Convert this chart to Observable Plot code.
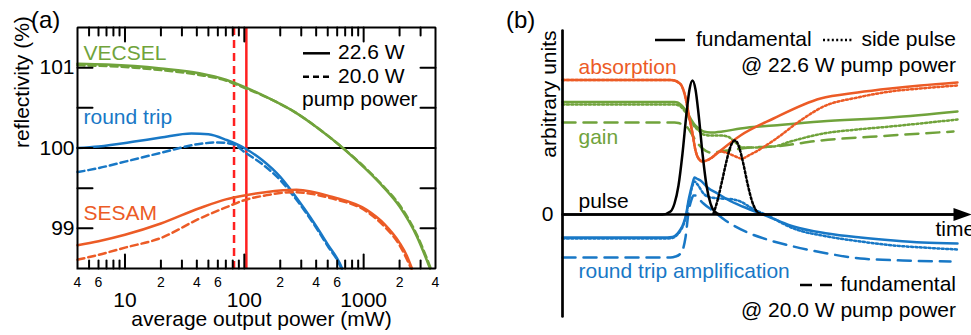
<!DOCTYPE html>
<html>
<head>
<meta charset="utf-8">
<script src="https://cdn.jsdelivr.net/npm/d3@7"></script>
<script src="https://cdn.jsdelivr.net/npm/@observablehq/plot@0.6"></script>
<style>
  html, body { margin: 0; padding: 0; background: #fff; overflow: hidden; }
  #wrap { position: relative; width: 971px; height: 335px; overflow: hidden; font-family: "Liberation Sans", Arial, sans-serif; }
  #wrap > svg { position: absolute; top: 0; }
</style>
</head>
<body>
<div id="wrap"></div>
<script>
// ================= DATA: panel (a) =================
const powerDomain = [4, 4000];
const reflDomain = [98.5, 101.5];
const powerMajorTicks = [10, 100, 1000];
const powerMinorTicks = [5, 6, 7, 8, 9, 20, 30, 40, 50, 60, 70, 80, 90, 200, 300, 400, 500, 600, 700, 800, 900, 2000, 3000];
const powerSmallLabels = [4, 6, 20, 40, 60, 200, 400, 600, 2000, 4000];
const reflTicks = [99, 99.5, 100, 100.5, 101];
const reflLabels = [99, 100, 101];
const unityLevel = [100];
const operatingPower226 = [104];
const operatingPower200 = [82];
const seriesNamesA = ["VECSEL", "round trip", "SESAM"];
const pumpLegend = ["22.6 W", "20.0 W", "pump power"];

const vecsel226 = [[4,101.05],[7,101.04],[12,101.02],[20,100.99],[42,100.93],[70,100.85],[100,100.76],[160,100.62],[263,100.45],[420,100.24],[670,100.0],[1054,99.73],[1450,99.52],[2000,99.27],[2790,98.9],[3600,98.5]];
const vecsel200 = [[4,101.03],[7,101.02],[12,101.0],[20,100.97],[42,100.91],[70,100.84],[100,100.75],[160,100.62],[263,100.45],[420,100.24],[670,100.0],[1054,99.74],[1450,99.53],[2000,99.29],[2790,98.92],[3650,98.5]];
const roundTrip226 = [[4,100.0],[6,100.02],[12,100.08],[20,100.13],[36,100.18],[50,100.17],[71,100.1],[100,100.0],[141,99.85],[200,99.64],[253,99.45],[320,99.24],[403,99.02],[500,98.8],[628,98.57],[660,98.5]];
const roundTrip200 = [[4,99.7],[6,99.75],[10,99.83],[20,99.94],[42,100.05],[60,100.07],[80,100.05],[100,99.95],[141,99.8],[200,99.6],[253,99.42],[320,99.22],[403,99.0],[500,98.78],[628,98.55],[650,98.5]];
const sesam226 = [[4,98.79],[6,98.84],[10,98.92],[20,99.06],[42,99.25],[70,99.36],[100,99.41],[150,99.45],[274,99.48],[549,99.39],[1060,99.23],[1500,99.05],[2000,98.82],[2300,98.66],[2540,98.5]];
const sesam200 = [[4,98.61],[6,98.67],[10,98.76],[20,98.88],[42,99.12],[70,99.26],[100,99.35],[150,99.41],[250,99.45],[549,99.37],[1060,99.21],[1500,99.02],[2000,98.79],[2500,98.5]];

// ================= DATA: panel (b) =================
const timeDomain = [0, 396];
const unitsDomain = [-10.2, 18.4];
const zeroLevel = [0];
const seriesNamesB = ["absorption", "gain", "pulse", "round trip amplification"];
const legendB = ["fundamental", "side pulse", "@ 22.6 W pump power", "fundamental", "@ 20.0 W pump power"];

const absorption226 = [[0,13.45],[108,13.45],[112,13.4],[116,13.2],[119,12.9],[123,11.7],[126,10.1],[130,8.1],[133,6.4],[136,5.6],[140,5.3],[148,5.6],[158,6.4],[178,7.9],[211,9.6],[258,11.6],[295,12.2],[328,12.6],[358,12.9],[395,13.2]];
const absorptionSide = [[0,13.45],[108,13.45],[112,13.4],[116,13.2],[119,12.9],[123,11.7],[126,10.1],[130,8.1],[133,6.4],[136,5.6],[140,5.3],[148,5.6],[158,6.3],[166,6.1],[173,5.8],[179,5.6],[188,6.0],[211,7.4],[238,9.4],[261,10.8],[295,11.7],[328,12.3],[358,12.6],[395,12.9]];
const gain226 = [[0,11.25],[112,11.25],[115,11.2],[118,11.0],[121,10.7],[125,10.1],[128,9.6],[132,9.0],[135,8.7],[141,8.3],[148,8.2],[160,8.3],[178,8.6],[211,8.9],[258,9.3],[328,9.7],[395,10.3]];
const gainSide = [[0,11.0],[112,11.0],[115,10.95],[118,10.8],[121,10.5],[125,9.9],[128,9.4],[132,8.8],[135,8.5],[141,8.0],[148,7.9],[158,7.9],[165,7.8],[173,7.2],[180,6.7],[188,6.7],[211,6.8],[228,7.3],[261,8.1],[295,8.5],[328,8.8],[395,9.5]];
const gain200 = [[0,9.2],[112,9.2],[116,9.15],[120,9.0],[125,8.7],[129,8.1],[133,7.4],[137,6.9],[140,6.6],[148,6.2],[165,6.4],[188,6.7],[211,6.8],[258,7.4],[328,7.9],[391,8.3]];
const pulse226 = [[0,0],[100,0],[108,0.3],[112,1.1],[116,2.9],[120,6.1],[124,10.1],[127,12.5],[130,13.4],[133,12.5],[136,10.1],[140,6.1],[144,2.9],[148,1.1],[152,0.3],[158,0],[396,0]];
const sidePulse = [[151,0.1],[155,1.4],[159,3.1],[163,4.9],[167,6.5],[170,7.2],[172,7.4],[174,7.3],[177,6.6],[181,5.0],[185,3.1],[189,1.5],[193,0.5],[197,0.1],[202,0]];
const roundTripAmp226 = [[0,-2.3],[105,-2.3],[110,-2.25],[115,-1.9],[118,-1.5],[121,-0.9],[124,0.2],[126,1.4],[128,2.3],[130,3.1],[132,3.7],[134,3.6],[138,3.4],[145,2.7],[155,2.1],[165,1.5],[180,0.8],[198,0.1],[215,-0.6],[231,-1.2],[265,-1.9],[298,-2.3],[331,-2.6],[360,-2.8],[395,-2.9]];
const roundTripAmpSide = [[0,-2.4],[105,-2.4],[110,-2.35],[115,-2.0],[118,-1.6],[121,-1.0],[124,0.0],[126,1.2],[128,2.1],[130,2.9],[132,3.3],[135,3.0],[141,2.1],[148,1.7],[158,1.6],[171,1.5],[180,1.2],[188,0.7],[205,-0.1],[231,-1.4],[265,-2.2],[298,-2.7],[331,-3.1],[360,-3.3],[395,-3.5]];
const roundTripAmp200 = [[0,-4.3],[108,-4.3],[113,-4.2],[117,-4.0],[120,-3.6],[123,-2.3],[126,0.2],[129,1.5],[131,1.9],[133,1.9],[137,1.5],[141,1.1],[150,0.4],[163,-0.6],[185,-1.8],[208,-2.6],[231,-3.2],[265,-3.9],[298,-4.4],[340,-4.6],[388,-4.7]];

// ================= STYLE =================
const GREEN = "#70a33b", BLUE = "#1878c6", ORANGE = "#ec5b26", RED = "#ff2020";
const FONT = "Liberation Sans, Arial, sans-serif";
const wrap = document.getElementById("wrap");
const px = d => d[0], py = d => d[1];

// ================= PANEL (a) =================
const A = {width: 490, height: 335, ml: 77, mr: 55, mt: 27, mb: 67};
const AW = A.width - A.ml - A.mr, AH = A.height - A.mt - A.mb;
const lineA = (data, color, dashed) => Plot.line(data, {x: px, y: py, stroke: color, strokeWidth: 2.5, curve: "monotone-x", strokeDasharray: dashed ? "7,4" : undefined});

// frame outline and inward tick segments, built from the domains and tick arrays (pixel lengths -> data units)
const yPerPx = (reflDomain[1] - reflDomain[0]) / AH;
const xFactorPerPx = Math.pow(powerDomain[1] / powerDomain[0], 1 / AW);
const frameA = [[powerDomain[0], reflDomain[0]], [powerDomain[1], reflDomain[0]], [powerDomain[1], reflDomain[1]], [powerDomain[0], reflDomain[1]], [powerDomain[0], reflDomain[0]]];
const ticksA = [];
let tid = 0;
const addXTick = (v, len) => {
  ticksA.push({x: v, y: reflDomain[0], id: ++tid}, {x: v, y: reflDomain[0] + len * yPerPx, id: tid});
  ticksA.push({x: v, y: reflDomain[1], id: ++tid}, {x: v, y: reflDomain[1] - len * yPerPx, id: tid});
};
powerMajorTicks.forEach(v => addXTick(v, 14));
powerMinorTicks.forEach(v => addXTick(v, 8));
reflTicks.forEach(v => {
  ticksA.push({x: powerDomain[0], y: v, id: ++tid}, {x: powerDomain[0] * Math.pow(xFactorPerPx, 15), y: v, id: tid});
  ticksA.push({x: powerDomain[1], y: v, id: ++tid}, {x: powerDomain[1] / Math.pow(xFactorPerPx, 15), y: v, id: tid});
});

const plotA = Plot.plot({
  width: A.width, height: A.height,
  marginLeft: A.ml, marginRight: A.mr, marginTop: A.mt, marginBottom: A.mb,
  style: {fontFamily: FONT, fontSize: "21px", color: "black", background: "transparent", overflow: "visible"},
  x: {type: "log", domain: powerDomain, axis: null},
  y: {domain: reflDomain, axis: null},
  marks: [
    Plot.ruleY(unityLevel, {stroke: "black", strokeWidth: 2}),
    Plot.ruleX(operatingPower200, {stroke: RED, strokeWidth: 2.5, strokeDasharray: "8,5"}),
    Plot.ruleX(operatingPower226, {stroke: RED, strokeWidth: 2.5}),
    lineA(vecsel200, GREEN, true), lineA(vecsel226, GREEN, false),
    lineA(roundTrip200, BLUE, true), lineA(roundTrip226, BLUE, false),
    lineA(sesam200, ORANGE, true), lineA(sesam226, ORANGE, false),
    Plot.line(frameA, {x: px, y: py, stroke: "black", strokeWidth: 2, strokeLinejoin: "miter", strokeLinecap: "square"}),
    Plot.line(ticksA, {x: "x", y: "y", z: "id", stroke: "black", strokeWidth: 2}),
    Plot.text(powerSmallLabels, {x: d => d, text: d => String(d)[0], frameAnchor: "bottom", dy: 9, lineAnchor: "top", fontSize: 14}),
    Plot.text(powerMajorTicks, {x: d => d, text: d => String(d), frameAnchor: "bottom", dy: 24, lineAnchor: "top", fontSize: 21}),
    Plot.text(reflLabels, {y: d => d, text: d => String(d), frameAnchor: "left", dx: -3, textAnchor: "end", lineAnchor: "middle", fontSize: 21}),
    Plot.text(["average output power (mW)"], {frameAnchor: "bottom", dx: 5, dy: 51, lineAnchor: "middle", fontSize: 21}),
    Plot.text(["reflectivity (%)"], {frameAnchor: "left", rotate: -90, dx: -55.5, lineAnchor: "middle", fontSize: 21}),
    Plot.text([seriesNamesA[0]], {frameAnchor: "top-left", dx: 6, dy: 25.3, textAnchor: "start", lineAnchor: "middle", fill: GREEN, fontSize: 21}),
    Plot.text([seriesNamesA[1]], {frameAnchor: "top-left", dx: 6, dy: 90, textAnchor: "start", lineAnchor: "middle", fill: BLUE, fontSize: 21}),
    Plot.text([seriesNamesA[2]], {frameAnchor: "top-left", dx: 6, dy: 185.3, textAnchor: "start", lineAnchor: "middle", fill: ORANGE, fontSize: 21})
  ]
});
plotA.style.left = "0px";
wrap.appendChild(plotA);

// ================= PANEL (b) =================
const B = {width: 481, height: 335, ml: 72, mr: 13, mt: 30, mb: 19};
const lineB = (data, color, dash) => Plot.line(data, {x: px, y: py, stroke: color, strokeWidth: 2.5, curve: "monotone-x", strokeDasharray: dash});
const DOT = "2,2.4", DASH = "13,8";
const arrowHead = {draw(ctx) { ctx.moveTo(9, 0); ctx.lineTo(-9, -6.5); ctx.lineTo(-9, 6.5); ctx.closePath(); }};
const verticalAxisB = [[timeDomain[0], unitsDomain[0]], [timeDomain[0], unitsDomain[1]]];

const plotB = Plot.plot({
  width: B.width, height: B.height,
  marginLeft: B.ml, marginRight: B.mr, marginTop: B.mt, marginBottom: B.mb,
  style: {fontFamily: FONT, fontSize: "21px", color: "black", background: "transparent", overflow: "visible"},
  x: {domain: timeDomain, axis: null},
  y: {domain: unitsDomain, axis: null},
  marks: [
    lineB(roundTripAmp200, BLUE, DASH),
    lineB(roundTripAmpSide, BLUE, DOT),
    lineB(roundTripAmp226, BLUE, undefined),
    lineB(gain200, GREEN, DASH),
    lineB(gainSide, GREEN, DOT),
    lineB(gain226, GREEN, undefined),
    lineB(absorptionSide, ORANGE, DOT),
    lineB(absorption226, ORANGE, undefined),
    Plot.ruleY(zeroLevel, {y: d => d, stroke: "black", strokeWidth: 2.7, insetRight: -5}),
    Plot.dot(zeroLevel, {y: d => d, frameAnchor: "right", dx: 4, symbol: arrowHead, fill: "black", stroke: "none"}),
    lineB(sidePulse, "black", DOT),
    lineB(pulse226, "black", undefined),
    Plot.line(verticalAxisB, {x: px, y: py, stroke: "black", strokeWidth: 2.7}),
    Plot.text(zeroLevel, {y: d => d, text: d => String(d), frameAnchor: "left", dx: -9, textAnchor: "end", lineAnchor: "middle", fontSize: 21}),
    Plot.text(["time"], {frameAnchor: "top-right", dx: -23, dy: 198.3, textAnchor: "start", lineAnchor: "middle", fontSize: 21}),
    Plot.text(["arbitrary units"], {frameAnchor: "top-left", rotate: -90, dx: -13.5, textAnchor: "end", lineAnchor: "middle", fontSize: 21}),
    Plot.text([seriesNamesB[0]], {frameAnchor: "top-left", dx: 16, dy: 36.6, textAnchor: "start", lineAnchor: "middle", fill: ORANGE, fontSize: 21}),
    Plot.text([seriesNamesB[1]], {frameAnchor: "top-left", dx: 16, dy: 106.6, textAnchor: "start", lineAnchor: "middle", fill: GREEN, fontSize: 21}),
    Plot.text([seriesNamesB[2]], {frameAnchor: "top-left", dx: 16, dy: 170.3, textAnchor: "start", lineAnchor: "middle", fill: "black", fontSize: 21}),
    Plot.text([seriesNamesB[3]], {frameAnchor: "top-left", dx: 16, dy: 240.3, textAnchor: "start", lineAnchor: "middle", fill: BLUE, fontSize: 21})
  ]
});
plotB.style.left = "490px";
wrap.appendChild(plotB);

// ================= LEGENDS & PANEL LETTERS =================
function legendLayer(svg) {
  return d3.select(svg).append("g").attr("font-family", FONT).attr("font-size", 21).attr("fill", "black").attr("text-anchor", "start");
}
const la = legendLayer(plotA);
la.append("text").attr("x", 31).attr("y", 28).attr("font-size", 24).text("(a)");
la.append("line").attr("x1", 303).attr("x2", 330).attr("y1", 53.3).attr("y2", 53.3).attr("stroke", "black").attr("stroke-width", 2.5);
la.append("line").attr("x1", 303).attr("x2", 330).attr("y1", 76.7).attr("y2", 76.7).attr("stroke", "black").attr("stroke-width", 2.5).attr("stroke-dasharray", "6,4");
la.append("text").attr("x", 338).attr("y", 59.3).text(pumpLegend[0]);
la.append("text").attr("x", 338).attr("y", 82.7).text(pumpLegend[1]);
la.append("text").attr("x", 302).attr("y", 106).text(pumpLegend[2]);

const lb = legendLayer(plotB);  // local x = page x - 490
lb.append("text").attr("x", 16).attr("y", 28).attr("font-size", 24).text("(b)");
lb.append("line").attr("x1", 165).attr("x2", 195).attr("y1", 40).attr("y2", 40).attr("stroke", "black").attr("stroke-width", 2.5);
lb.append("text").attr("x", 206).attr("y", 46).text(legendB[0]);
lb.append("line").attr("x1", 333).attr("x2", 362).attr("y1", 40).attr("y2", 40).attr("stroke", "black").attr("stroke-width", 2.5).attr("stroke-dasharray", DOT);
lb.append("text").attr("x", 466).attr("y", 46).attr("text-anchor", "end").text(legendB[1]);
lb.append("text").attr("x", 466).attr("y", 71.7).attr("text-anchor", "end").text(legendB[2]);
lb.append("line").attr("x1", 310).attr("x2", 342).attr("y1", 285).attr("y2", 285).attr("stroke", "black").attr("stroke-width", 2.5).attr("stroke-dasharray", "12,8");
lb.append("text").attr("x", 466).attr("y", 291).attr("text-anchor", "end").text(legendB[3]);
lb.append("text").attr("x", 466).attr("y", 316.5).attr("text-anchor", "end").text(legendB[4]);
</script>
</body>
</html>
